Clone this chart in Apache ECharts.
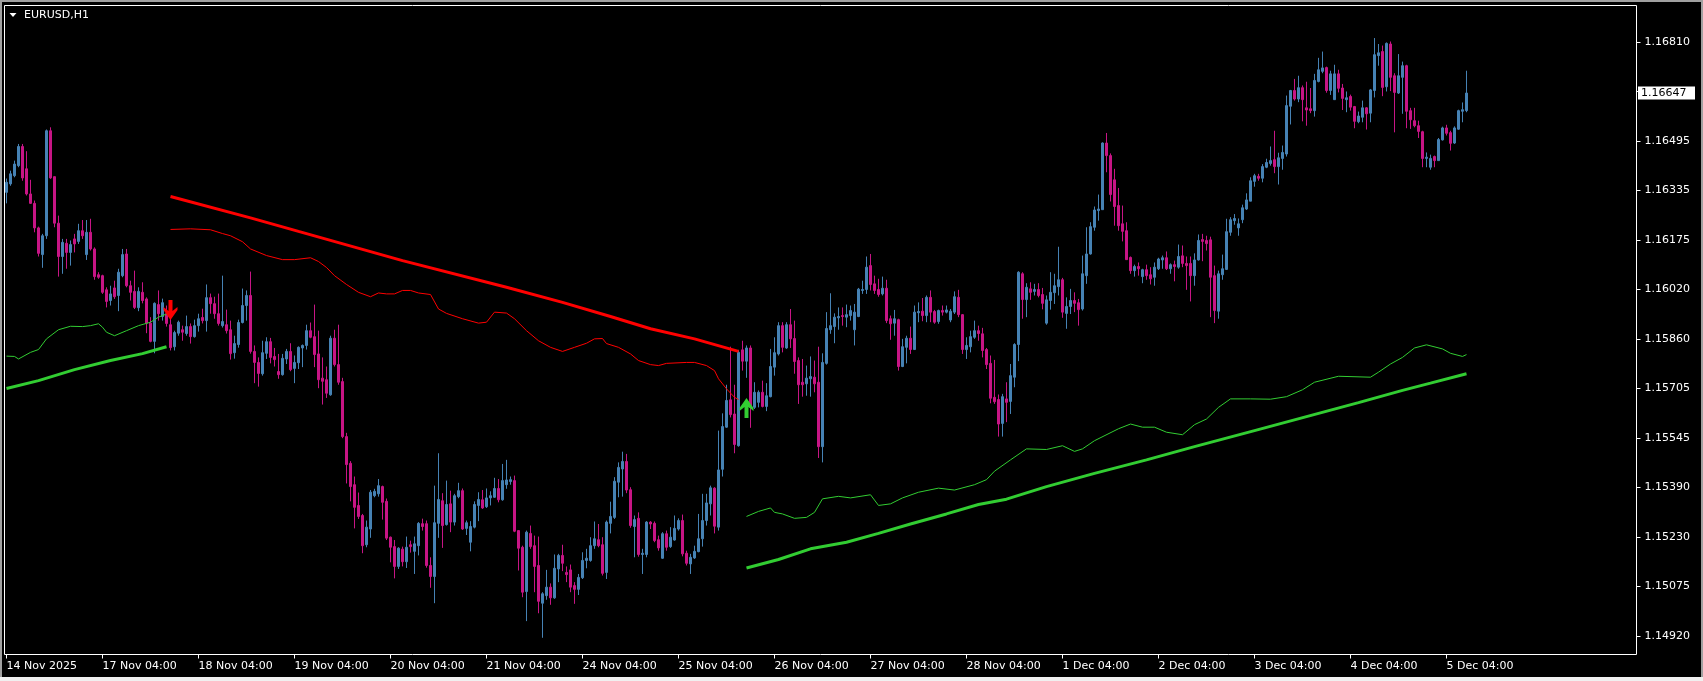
<!DOCTYPE html>
<html><head><meta charset="utf-8">
<script src="https://cdn.jsdelivr.net/npm/echarts@6/dist/echarts.min.js"></script>
<style>html,body{margin:0;padding:0;background:#000;overflow:hidden}#chart{width:1703px;height:681px}</style>
</head><body><div id="chart"></div>
<script>
const symbolTitle = 'EURUSD,H1';
const xTickLabels = ['14 Nov 2025','17 Nov 04:00','18 Nov 04:00','19 Nov 04:00','20 Nov 04:00','21 Nov 04:00','24 Nov 04:00','25 Nov 04:00','26 Nov 04:00','27 Nov 04:00','28 Nov 04:00','1 Dec 04:00','2 Dec 04:00','3 Dec 04:00','4 Dec 04:00','5 Dec 04:00'];
const barsPerLabel = 24;
const yTickLabels = ['1.14920','1.15075','1.15230','1.15390','1.15545','1.15705','1.15860','1.16020','1.16175','1.16335','1.16495','1.16650','1.16810'];
const lastPrice = 1.16647;

const opens = [
1.16331,1.16358,1.16384,1.16416,1.16477,1.16406,1.16326,1.16296,1.16218,1.16133,
1.16193,1.16527,1.16381,1.16233,1.16127,1.16169,1.16140,1.16183,1.16175,1.16209,
1.16133,1.16204,1.16151,1.16069,1.16066,1.16021,1.15987,1.16027,1.16003,1.16066,
1.16135,1.16034,1.16016,1.15964,1.16013,1.15992,1.15915,1.15857,1.15974,1.15936,
1.15945,1.15910,1.15840,1.15883,1.15894,1.15882,1.15904,1.15872,1.15907,1.15933,
1.15923,1.15996,1.15977,1.15945,1.15907,1.15910,1.15894,1.15821,1.15847,1.15917,
1.15971,1.16003,1.15825,1.15790,1.15754,1.15819,1.15856,1.15809,1.15761,1.15751,
1.15801,1.15825,1.15771,1.15789,1.15836,1.15844,1.15891,1.15872,1.15817,1.15740,
1.15735,1.15687,1.15867,1.15783,1.15729,1.15554,1.15469,1.15401,1.15335,1.15303,
1.15210,1.15260,1.15366,1.15372,1.15395,1.15348,1.15234,1.15204,1.15141,1.15196,
1.15156,1.15210,1.15189,1.15207,1.15277,1.15277,1.15144,1.15109,1.15278,1.15350,
1.15274,1.15340,1.15282,1.15363,1.15382,1.15262,1.15218,1.15266,1.15335,1.15353,
1.15331,1.15359,1.15361,1.15389,1.15353,1.15401,1.15411,1.15414,1.15255,1.15202,
1.15061,1.15246,1.15207,1.15144,1.15024,1.15048,1.15075,1.15041,1.15133,1.15176,
1.15122,1.15130,1.15080,1.15068,1.15105,1.15160,1.15160,1.15207,1.15226,1.15210,
1.15122,1.15278,1.15297,1.15409,1.15451,1.15475,1.15385,1.15268,1.15294,1.15179,
1.15179,1.15282,1.15278,1.15226,1.15167,1.15245,1.15204,1.15225,1.15260,1.15287,
1.15183,1.15149,1.15168,1.15188,1.15229,1.15287,1.15340,1.15390,1.15266,1.15450,
1.15584,1.15671,1.15626,1.15525,1.15830,1.15794,1.15836,1.15647,1.15663,1.15695,
1.15650,1.15681,1.15775,1.15817,1.15907,1.15836,1.15910,1.15866,1.15796,1.15727,
1.15722,1.15738,1.15743,1.15727,1.15522,1.15787,1.15894,1.15904,1.15932,1.15939,
1.15934,1.15939,1.15894,1.15936,1.16019,1.16022,1.16098,1.16040,1.16022,1.16008,
1.16026,1.15929,1.15915,1.15926,1.15777,1.15838,1.15867,1.15831,1.15948,1.15953,
1.15939,1.15997,1.15952,1.15920,1.15955,1.15950,1.15925,1.15950,1.15997,1.15942,
1.15831,1.15840,1.15870,1.15891,1.15881,1.15831,1.15787,1.15679,1.15672,1.15596,
1.15674,1.15666,1.15743,1.15847,1.16072,1.15990,1.16024,1.16016,1.16022,1.16006,
1.15915,1.15987,1.16012,1.16031,1.16053,1.15946,1.15968,1.15987,1.15980,1.15960,
1.16066,1.16135,1.16220,1.16273,1.16276,1.16488,1.16448,1.16371,1.16289,1.16231,
1.16209,1.16124,1.16082,1.16095,1.16063,1.16085,1.16069,1.16061,1.16088,1.16116,
1.16123,1.16088,1.16101,1.16093,1.16129,1.16105,1.16105,1.16066,1.16116,1.16181,
1.16178,1.16180,1.16066,1.15953,1.16069,1.16086,1.16204,1.16241,1.16218,1.16244,
1.16278,1.16303,1.16366,1.16382,1.16376,1.16411,1.16423,1.16435,1.16413,1.16439,
1.16453,1.16605,1.16655,1.16628,1.16664,1.16600,1.16597,1.16591,1.16684,1.16716,
1.16728,1.16655,1.16626,1.16708,1.16663,1.16626,1.16636,1.16604,1.16556,1.16570,
1.16600,1.16583,1.16655,1.16766,1.16779,1.16667,1.16803,1.16702,1.16647,1.16697,
1.16734,1.16591,1.16559,1.16543,1.16524,1.16439,1.16411,1.16445,1.16432,1.16498,
1.16536,1.16521,1.16488,1.16532,1.16589,1.16591];

const highs = [
1.16375,1.16400,1.16432,1.16485,1.16485,1.16462,1.16371,1.16305,1.16222,1.16199,
1.16531,1.16538,1.16381,1.16257,1.16183,1.16183,1.16178,1.16199,1.16231,1.16243,
1.16243,1.16247,1.16156,1.16077,1.16069,1.16029,1.16034,1.16050,1.16088,1.16151,
1.16151,1.16050,1.16082,1.16029,1.16045,1.15997,1.15934,1.15981,1.16019,1.15993,
1.15971,1.15929,1.15891,1.15923,1.15907,1.15939,1.15914,1.15926,1.15945,1.15961,
1.16038,1.16009,1.15999,1.16009,1.16066,1.15958,1.15923,1.15875,1.15926,1.16025,
1.16019,1.16079,1.15844,1.15806,1.15859,1.15870,1.15868,1.15836,1.15817,1.15817,
1.15833,1.15851,1.15812,1.15841,1.15847,1.15910,1.15917,1.15974,1.15891,1.15806,
1.15777,1.15875,1.15894,1.15910,1.15741,1.15566,1.15476,1.15427,1.15376,1.15308,
1.15287,1.15384,1.15388,1.15419,1.15398,1.15357,1.15236,1.15225,1.15202,1.15204,
1.15236,1.15223,1.15236,1.15282,1.15293,1.15287,1.15170,1.15398,1.15501,1.15374,
1.15414,1.15382,1.15372,1.15407,1.15389,1.15287,1.15285,1.15348,1.15377,1.15384,
1.15389,1.15380,1.15423,1.15419,1.15467,1.15480,1.15427,1.15430,1.15255,1.15207,
1.15255,1.15271,1.15239,1.15236,1.15059,1.15130,1.15087,1.15179,1.15181,1.15210,
1.15141,1.15147,1.15091,1.15117,1.15186,1.15197,1.15234,1.15284,1.15276,1.15234,
1.15287,1.15347,1.15425,1.15472,1.15506,1.15499,1.15393,1.15303,1.15313,1.15197,
1.15285,1.15285,1.15284,1.15239,1.15250,1.15255,1.15266,1.15303,1.15294,1.15306,
1.15191,1.15181,1.15207,1.15308,1.15372,1.15372,1.15398,1.15393,1.15573,1.15628,
1.15719,1.15840,1.15719,1.15830,1.15859,1.15844,1.15844,1.15727,1.15701,1.15732,
1.15724,1.15833,1.15870,1.15918,1.15918,1.15918,1.15960,1.15923,1.15806,1.15801,
1.15780,1.15809,1.15796,1.15840,1.15819,1.15950,1.16010,1.15946,1.15965,1.15965,
1.15974,1.15971,1.15976,1.16027,1.16050,1.16127,1.16135,1.16066,1.16056,1.16063,
1.16053,1.15939,1.15957,1.15929,1.15865,1.15875,1.15904,1.15971,1.15981,1.15995,
1.16003,1.16019,1.15957,1.15958,1.15971,1.15971,1.15960,1.16016,1.16021,1.15944,
1.15870,1.15891,1.15923,1.15907,1.15900,1.15836,1.15812,1.15798,1.15688,1.15690,
1.15727,1.15785,1.15851,1.16080,1.16077,1.16042,1.16045,1.16040,1.16042,1.16027,
1.16003,1.16077,1.16072,1.16158,1.16059,1.15997,1.16024,1.16013,1.15992,1.16130,
1.16220,1.16236,1.16286,1.16324,1.16490,1.16520,1.16455,1.16406,1.16345,1.16289,
1.16236,1.16127,1.16101,1.16108,1.16088,1.16101,1.16093,1.16108,1.16123,1.16130,
1.16143,1.16105,1.16114,1.16165,1.16162,1.16127,1.16127,1.16137,1.16197,1.16199,
1.16193,1.16190,1.16098,1.16082,1.16133,1.16247,1.16252,1.16262,1.16248,1.16292,
1.16328,1.16379,1.16390,1.16390,1.16421,1.16438,1.16477,1.16527,1.16457,1.16480,
1.16639,1.16657,1.16692,1.16702,1.16671,1.16683,1.16663,1.16708,1.16759,1.16779,
1.16731,1.16718,1.16737,1.16721,1.16676,1.16652,1.16642,1.16606,1.16588,1.16623,
1.16602,1.16660,1.16822,1.16803,1.16798,1.16808,1.16811,1.16710,1.16771,1.16747,
1.16737,1.16600,1.16600,1.16559,1.16527,1.16458,1.16451,1.16448,1.16504,1.16540,
1.16546,1.16527,1.16541,1.16594,1.16617,1.16718];

const lows = [
1.16296,1.16352,1.16379,1.16411,1.16368,1.16321,1.16294,1.16204,1.16127,1.16091,
1.16183,1.16374,1.16220,1.16063,1.16072,1.16088,1.16098,1.16140,1.16167,1.16183,
1.16116,1.16146,1.16053,1.16056,1.16008,1.15965,1.15971,1.15992,1.15953,1.16061,
1.16029,1.15987,1.15960,1.15953,1.15978,1.15883,1.15854,1.15819,1.15923,1.15923,
1.15904,1.15828,1.15828,1.15875,1.15859,1.15875,1.15850,1.15869,1.15888,1.15914,
1.15888,1.15945,1.15929,1.15907,1.15901,1.15882,1.15799,1.15802,1.15837,1.15914,
1.15923,1.15818,1.15724,1.15713,1.15748,1.15801,1.15787,1.15777,1.15738,1.15748,
1.15785,1.15762,1.15724,1.15769,1.15775,1.15831,1.15867,1.15775,1.15708,1.15656,
1.15677,1.15684,1.15777,1.15719,1.15549,1.15405,1.15348,1.15262,1.15292,1.15183,
1.15202,1.15232,1.15361,1.15363,1.15290,1.15225,1.15154,1.15103,1.15133,1.15141,
1.15136,1.15185,1.15117,1.15176,1.15255,1.15137,1.15073,1.15024,1.15232,1.15200,
1.15271,1.15250,1.15271,1.15358,1.15257,1.15241,1.15189,1.15262,1.15285,1.15324,
1.15327,1.15335,1.15359,1.15345,1.15350,1.15388,1.15401,1.15250,1.15128,1.15043,
1.14967,1.15197,1.15059,1.14992,1.14914,1.15035,1.15019,1.15038,1.15091,1.15126,
1.15091,1.15059,1.15022,1.15050,1.15101,1.15135,1.15156,1.15197,1.15202,1.15112,
1.15101,1.15246,1.15292,1.15361,1.15363,1.15374,1.15264,1.15170,1.15172,1.15117,
1.15170,1.15260,1.15218,1.15191,1.15165,1.15191,1.15200,1.15223,1.15255,1.15173,
1.15144,1.15117,1.15165,1.15186,1.15204,1.15271,1.15303,1.15246,1.15255,1.15427,
1.15582,1.15615,1.15501,1.15522,1.15764,1.15741,1.15582,1.15642,1.15647,1.15647,
1.15635,1.15679,1.15748,1.15812,1.15822,1.15833,1.15836,1.15754,1.15658,1.15681,
1.15684,1.15681,1.15695,1.15486,1.15472,1.15783,1.15881,1.15851,1.15894,1.15907,
1.15902,1.15923,1.15844,1.15934,1.16008,1.16008,1.16019,1.16008,1.15999,1.16003,
1.15915,1.15862,1.15875,1.15764,1.15775,1.15787,1.15817,1.15830,1.15918,1.15921,
1.15918,1.15918,1.15913,1.15913,1.15939,1.15946,1.15918,1.15944,1.15934,1.15817,
1.15801,1.15822,1.15865,1.15859,1.15806,1.15769,1.15660,1.15658,1.15554,1.15554,
1.15600,1.15626,1.15711,1.15794,1.15929,1.15934,1.15989,1.16003,1.15997,1.15959,
1.15910,1.15958,1.15976,1.16003,1.15932,1.15897,1.15944,1.15950,1.15907,1.15955,
1.16040,1.16133,1.16209,1.16241,1.16275,1.16395,1.16302,1.16225,1.16209,1.16175,
1.16116,1.16072,1.16063,1.16066,1.16042,1.16053,1.16038,1.16034,1.16084,1.16088,
1.16084,1.16072,1.16048,1.16088,1.16093,1.16021,1.15984,1.16034,1.16114,1.16112,
1.16146,1.15934,1.15915,1.15929,1.16053,1.16084,1.16193,1.16228,1.16193,1.16233,
1.16275,1.16303,1.16349,1.16368,1.16363,1.16408,1.16416,1.16392,1.16356,1.16403,
1.16445,1.16547,1.16623,1.16618,1.16557,1.16543,1.16583,1.16572,1.16681,1.16710,
1.16648,1.16641,1.16625,1.16649,1.16593,1.16586,1.16591,1.16535,1.16551,1.16554,
1.16531,1.16554,1.16633,1.16734,1.16637,1.16652,1.16653,1.16522,1.16644,1.16581,
1.16535,1.16533,1.16538,1.16504,1.16411,1.16411,1.16403,1.16411,1.16432,1.16496,
1.16512,1.16464,1.16485,1.16530,1.16554,1.16586];

const closes = [
1.16363,1.16390,1.16421,1.16477,1.16377,1.16326,1.16296,1.16218,1.16137,1.16193,
1.16527,1.16377,1.16233,1.16127,1.16172,1.16140,1.16165,1.16167,1.16209,1.16193,
1.16204,1.16151,1.16063,1.16061,1.16013,1.15984,1.16008,1.15999,1.16077,1.16133,
1.16034,1.16013,1.15965,1.16016,1.15987,1.15915,1.15857,1.15978,1.15945,1.15980,
1.15914,1.15837,1.15885,1.15918,1.15886,1.15904,1.15872,1.15907,1.15929,1.15923,
1.15996,1.15977,1.15945,1.15914,1.15920,1.15891,1.15818,1.15850,1.15917,1.15971,
1.16003,1.15825,1.15790,1.15755,1.15821,1.15856,1.15806,1.15799,1.15751,1.15803,
1.15825,1.15767,1.15790,1.15838,1.15844,1.15891,1.15870,1.15815,1.15735,1.15730,
1.15692,1.15867,1.15783,1.15727,1.15554,1.15465,1.15395,1.15329,1.15300,1.15207,
1.15266,1.15377,1.15380,1.15398,1.15345,1.15231,1.15202,1.15141,1.15199,1.15156,
1.15202,1.15204,1.15213,1.15278,1.15268,1.15144,1.15109,1.15280,1.15354,1.15271,
1.15338,1.15282,1.15366,1.15382,1.15260,1.15280,1.15268,1.15338,1.15354,1.15327,
1.15359,1.15366,1.15389,1.15353,1.15414,1.15416,1.15417,1.15253,1.15199,1.15059,
1.15250,1.15204,1.15141,1.15030,1.15054,1.15075,1.15041,1.15135,1.15176,1.15151,
1.15115,1.15075,1.15068,1.15106,1.15160,1.15167,1.15207,1.15229,1.15207,1.15119,
1.15282,1.15300,1.15412,1.15456,1.15475,1.15384,1.15271,1.15290,1.15179,1.15183,
1.15282,1.15276,1.15223,1.15200,1.15245,1.15202,1.15234,1.15262,1.15287,1.15181,
1.15151,1.15170,1.15189,1.15229,1.15287,1.15343,1.15391,1.15269,1.15448,1.15586,
1.15669,1.15624,1.15529,1.15822,1.15794,1.15836,1.15647,1.15695,1.15695,1.15650,
1.15684,1.15777,1.15821,1.15907,1.15838,1.15910,1.15865,1.15793,1.15719,1.15719,
1.15740,1.15745,1.15722,1.15522,1.15790,1.15898,1.15907,1.15934,1.15936,1.15936,
1.15942,1.15955,1.15950,1.16023,1.16022,1.16093,1.16038,1.16019,1.16006,1.16026,
1.15923,1.15913,1.15929,1.15777,1.15840,1.15867,1.15831,1.15950,1.15952,1.15939,
1.15997,1.15950,1.15918,1.15955,1.15950,1.15957,1.15953,1.15999,1.15942,1.15831,
1.15844,1.15872,1.15891,1.15882,1.15828,1.15783,1.15676,1.15665,1.15594,1.15681,
1.15663,1.15748,1.15847,1.16077,1.15990,1.16029,1.16013,1.16022,1.16003,1.15978,
1.15989,1.16013,1.16034,1.16053,1.15950,1.15968,1.15987,1.15978,1.15958,1.16072,
1.16135,1.16222,1.16275,1.16278,1.16488,1.16448,1.16324,1.16286,1.16225,1.16207,
1.16117,1.16082,1.16095,1.16088,1.16085,1.16066,1.16056,1.16093,1.16119,1.16123,
1.16088,1.16101,1.16095,1.16127,1.16105,1.16098,1.16066,1.16116,1.16178,1.16175,
1.16168,1.16061,1.15955,1.16072,1.16088,1.16206,1.16244,1.16248,1.16231,1.16282,
1.16307,1.16368,1.16384,1.16376,1.16413,1.16426,1.16432,1.16413,1.16441,1.16458,
1.16607,1.16655,1.16628,1.16664,1.16626,1.16593,1.16591,1.16687,1.16721,1.16727,
1.16655,1.16708,1.16708,1.16662,1.16630,1.16632,1.16602,1.16557,1.16574,1.16600,
1.16581,1.16657,1.16769,1.16775,1.16665,1.16805,1.16697,1.16649,1.16702,1.16734,
1.16589,1.16562,1.16543,1.16525,1.16439,1.16443,1.16439,1.16432,1.16499,1.16536,
1.16519,1.16487,1.16536,1.16591,1.16594,1.16647];

// indicator lines: bar index and price read at that bar
const redThickIdx = [41,61,73,99,125,139,151,161,172,183];
const redThickVal = [1.16318,1.16250,1.16207,1.16114,1.16029,1.15981,1.15936,1.15897,1.15865,1.15825];

const redThinIdx = [41,46,51,54,56,59,61,65,69,72,76,78,80,82,85,88,91,93,95,97,99,101,103,106,108,110,114,118,120,122,125,127,130,133,136,139,142,145,147,149,150,153,156,158,161,163,165,170,172,175,177,178,180,182,183];
const redThinVal = [1.16213,1.16215,1.16212,1.16200,1.16193,1.16174,1.16151,1.16130,1.16117,1.16117,1.16123,1.16111,1.16092,1.16066,1.16038,1.16013,1.15999,1.16011,1.16008,1.16008,1.16019,1.16019,1.16011,1.16006,1.15960,1.15946,1.15929,1.15915,1.15918,1.15950,1.15947,1.15929,1.15891,1.15859,1.15838,1.15825,1.15838,1.15851,1.15865,1.15866,1.15850,1.15838,1.15817,1.15796,1.15783,1.15780,1.15787,1.15790,1.15790,1.15780,1.15764,1.15738,1.15706,1.15679,1.15672];

const greenThinAIdx = [0,2,3,6,8,10,13,16,19,21,23,24,25,27,30,33,36,38,40];
const greenThinAVal = [1.15810,1.15809,1.15801,1.15822,1.15831,1.15865,1.15894,1.15905,1.15904,1.15907,1.15913,1.15902,1.15886,1.15875,1.15891,1.15907,1.15918,1.15934,1.15944];

const greenThickAIdx = [0,8,17,26,34,40];
const greenThickAVal = [1.15707,1.15732,1.15767,1.15796,1.15818,1.15840];

const greenThinBIdx = [185,188,191,192,194,197,200,202,204,208,211,216,218,221,224,228,233,237,242,245,247,251,255,260,264,267,269,272,278,281,284,287,290,294,297,300,303,306,311,316,320,324,327,333,341,343,346,349,352,355,359,361,364,365];
const greenThinBVal = [1.15300,1.15316,1.15327,1.15313,1.15308,1.15294,1.15297,1.15313,1.15356,1.15364,1.15359,1.15369,1.15335,1.15340,1.15359,1.15377,1.15390,1.15384,1.15401,1.15417,1.15444,1.15480,1.15515,1.15513,1.15525,1.15507,1.15515,1.15541,1.15579,1.15594,1.15584,1.15584,1.15568,1.15560,1.15592,1.15610,1.15647,1.15674,1.15674,1.15673,1.15681,1.15703,1.15727,1.15746,1.15743,1.15759,1.15785,1.15806,1.15836,1.15846,1.15833,1.15819,1.15809,1.15815];

const greenThickBIdx = [185,193,201,210,218,226,235,243,250,260,272,285,297,312,338,349,356,365];
const greenThickBVal = [1.15136,1.15163,1.15197,1.15218,1.15246,1.15276,1.15308,1.15338,1.15355,1.15395,1.15437,1.15480,1.15522,1.15573,1.15662,1.15701,1.15724,1.15754];

const sellArrowIdx = [41];
const sellArrowVal = [1.15957];
const buyArrowIdx = [185];
const buyArrowVal = [1.15645];

// layout
const totalSlots = 408;
const yMin = 1.148608, yMax = 1.169255;
const FONT = 'DejaVu Sans';
const RED = '#FF0000', GREEN = '#32CD32', UP = '#4682B4', DOWN = '#C71585';

const cats = Array.from({length: totalSlots}, (_, i) => String(i));
const candleData = opens.map((o, i) => [o, closes[i], lows[i], highs[i]]);
const pairs = (idx, val) => idx.map((x, k) => [x, val[k]]);

const yBase = parseFloat(yTickLabels[0]);
const yStep = (parseFloat(yTickLabels[yTickLabels.length - 1]) - yBase) / (yTickLabels.length - 1);
const yTickVals = yTickLabels.map((_, k) => yBase + k * yStep);
const showX = (i) => i % barsPerLabel === 0 && i / barsPerLabel < xTickLabels.length;

function lineSeries(data, color, width) {
  return {type: 'line', data, symbol: 'none', showSymbol: false, silent: true, z: 5,
    lineStyle: {color, width}, itemStyle: {color}, animation: false};
}

const chart = echarts.init(document.getElementById('chart'), null, {renderer: 'canvas'});
const frame = [
  {type: 'rect', shape: {x: 0, y: 0, width: 1703, height: 2}, style: {fill: '#A0A0A0'}, silent: true},
  {type: 'rect', shape: {x: 0, y: 0, width: 2, height: 681}, style: {fill: '#A0A0A0'}, silent: true},
  {type: 'rect', shape: {x: 1701, y: 0, width: 2, height: 681}, style: {fill: '#A0A0A0'}, silent: true},
  {type: 'rect', shape: {x: 0, y: 677, width: 1703, height: 4}, style: {fill: '#F0F0F0'}, silent: true},
  {type: 'polygon', shape: {points: [[9.5, 13], [16.5, 13], [13, 17]]}, style: {fill: '#FFFFFF'}, silent: true},
  {type: 'text', x: 24, y: 10, style: {text: symbolTitle, fill: '#FFFFFF', font: '11px "DejaVu Sans"', textVerticalAlign: 'top'}, silent: true}
];
chart.setOption({
  backgroundColor: '#000',
  animation: false,
  grid: {left: 4.5, top: 5.5, width: 1632, height: 649, show: true, borderColor: '#FFFFFF', borderWidth: 1,
    backgroundColor: 'transparent', containLabel: false, outerBoundsMode: 'none'},
  xAxis: {
    type: 'category', data: cats, boundaryGap: true,
    axisLine: {show: false},
    axisTick: {show: true, alignWithLabel: true, interval: (i) => showX(i), length: 4, lineStyle: {color: '#FFFFFF'}},
    axisLabel: {interval: (i) => showX(i), formatter: (v, i) => xTickLabels[Math.round(i / barsPerLabel)] || '',
      align: 'left', color: '#FFFFFF', fontFamily: FONT, fontSize: 11, margin: 6},
    splitLine: {show: false}
  },
  yAxis: {
    type: 'value', position: 'right', min: yMin, max: yMax, scale: true,
    axisLine: {show: false}, splitLine: {show: false},
    axisTick: {show: true, length: 4, customValues: yTickVals, lineStyle: {color: '#FFFFFF'}},
    axisLabel: {customValues: yTickVals, color: '#FFFFFF', fontFamily: FONT, fontSize: 11, margin: 8,
      formatter: (v) => {
        if (Math.abs(v - lastPrice) < yStep / 3) return '';
        const k = Math.round((v - yBase) / yStep);
        return yTickLabels[k] || '';
      }}
  },
  series: [
    {type: 'candlestick', data: candleData, barWidth: 2, z: 3,
      itemStyle: {color: UP, color0: DOWN, borderColor: UP, borderColor0: DOWN, borderColorDoji: UP, borderWidth: 1}},
    lineSeries(pairs(redThinIdx, redThinVal), RED, 1),
    lineSeries(pairs(redThickIdx, redThickVal), RED, 3),
    lineSeries(pairs(greenThinAIdx, greenThinAVal), GREEN, 1),
    lineSeries(pairs(greenThickAIdx, greenThickAVal), GREEN, 3),
    lineSeries(pairs(greenThinBIdx, greenThinBVal), GREEN, 1),
    lineSeries(pairs(greenThickBIdx, greenThickBVal), GREEN, 3),
    {type: 'scatter', data: pairs(sellArrowIdx, sellArrowVal), z: 6, silent: true,
      symbol: 'path://M5,0 L9,0 L9,11 L14,7 L14,10 L7,20 L0,10 L0,7 L5,11 Z', symbolSize: [14, 20],
      itemStyle: {color: RED, opacity: 1}},
    {type: 'scatter', data: pairs(buyArrowIdx, buyArrowVal), z: 6, silent: true,
      symbol: 'path://M5,20 L9,20 L9,9 L14,13 L14,10 L7,0 L0,10 L0,13 L5,9 Z', symbolSize: [14, 20],
      itemStyle: {color: GREEN, opacity: 1}}
  ],
  graphic: frame
});

// current price tag on the price scale, placed through the axis scale
const py = chart.convertToPixel({yAxisIndex: 0}, lastPrice);
chart.setOption({
  graphic: frame.concat([
    {type: 'group', z: 100, children: [
      {type: 'rect', shape: {x: 1638, y: Math.round(py) - 6.5, width: 57, height: 13}, style: {fill: '#FFFFFF'}, z: 100, silent: true},
      {type: 'text', x: 1641, y: py, z: 101, silent: true,
        style: {text: lastPrice.toFixed(5), fill: '#000000', font: '11px "DejaVu Sans"', textVerticalAlign: 'middle'}}
    ]}
  ])
});
</script></body></html>
